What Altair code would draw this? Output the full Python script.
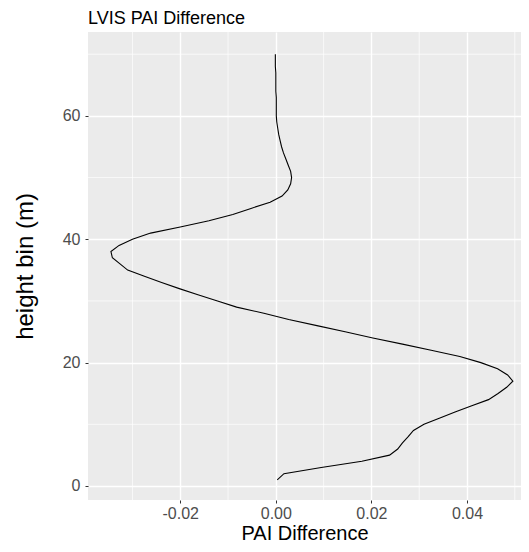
import altair as alt
import pandas as pd

# height bins (m)
heights = [1, 2, 3, 4, 5, 6, 7, 8, 9, 10,
           11, 12, 13, 14, 15, 16, 17, 18, 19, 20,
           21, 22, 23, 24, 25, 26, 27, 28, 29, 30,
           31, 32, 33, 34, 35, 36, 37, 38, 39, 40,
           41, 42, 43, 44, 45, 46, 47, 48, 49, 50,
           51, 52, 53, 54, 55, 56, 57, 58, 59, 60,
           61, 62, 63, 64, 65, 66, 67, 68, 69, 70]

# PAI difference per bin
pai_diff = [0.0003, 0.0017, 0.0095, 0.0180, 0.0238, 0.0255, 0.0265, 0.0277, 0.0288, 0.0310,
            0.0342, 0.0375, 0.0410, 0.0445, 0.0465, 0.0483, 0.0496, 0.0485, 0.0464, 0.0429,
            0.0385, 0.0325, 0.0265, 0.0203, 0.0145, 0.0086, 0.0027, -0.0025, -0.0082, -0.0122,
            -0.0163, -0.0202, -0.0239, -0.0275, -0.0310, -0.0326, -0.0342, -0.0345, -0.0328, -0.0300,
            -0.0262, -0.0200, -0.0140, -0.0090, -0.0052, -0.0012, 0.0013, 0.0025, 0.0031, 0.0033,
            0.0031, 0.0026, 0.0021, 0.0016, 0.0012, 0.0009, 0.0006, 0.0004, 0.0002, 0.0001,
            0.0001, 0.0001, 0.0001, 0.0000, 0.0000, 0.0000, 0.0000, -0.0001, -0.0001, -0.0001]

x_major = [-0.02, 0.00, 0.02, 0.04]
x_minor = [-0.03, -0.01, 0.01, 0.03, 0.05]
y_major = [0, 20, 40, 60]
y_minor = [10, 30, 50, 70]

FONT = "Liberation Sans"

df = pd.DataFrame({"height": heights, "pai": pai_diff})

xscale = alt.Scale(domain=[-0.0393, 0.0513], nice=False, zero=False)
yscale = alt.Scale(domain=[-2.27, 73.6], nice=False, zero=False)

x_axis = alt.Axis(values=x_major, title="PAI Difference",
                  labelExpr="replace(format(datum.value, '.2f'), '\u2212', '-')",
                  labelFontSize=16, labelColor="#4D4D4D", labelFont=FONT,
                  labelPadding=2, tickSize=3, tickColor="#333333", tickWidth=1,
                  domain=False, grid=True, gridColor="white", gridWidth=1.4, gridOpacity=1,
                  titleFontSize=20, titleFontWeight="normal", titleColor="#000000",
                  titleFont=FONT, titleBaseline="alphabetic", titleY=39.5)
y_axis = alt.Axis(values=y_major, title="height bin (m)", format="d",
                  labelFontSize=16, labelColor="#4D4D4D", labelFont=FONT,
                  labelPadding=5, tickSize=3, tickColor="#333333", tickWidth=1,
                  domain=False, grid=True, gridColor="white", gridWidth=1.4, gridOpacity=1,
                  titleFontSize=24, titleFontWeight="normal", titleColor="#000000",
                  titleFont=FONT, titleAngle=270, titleX=-63, titleY=234,
                  titleBaseline="middle", titleAlign="center")

vminor = alt.Chart(pd.DataFrame({"pai": x_minor})).mark_rule(color="white", strokeWidth=0.7).encode(
    x=alt.X("pai:Q", scale=xscale, axis=x_axis))
hminor = alt.Chart(pd.DataFrame({"height": y_minor})).mark_rule(color="white", strokeWidth=0.7).encode(
    y=alt.Y("height:Q", scale=yscale, axis=y_axis))

line = alt.Chart(df).mark_line(color="black", strokeWidth=1.1).encode(
    x=alt.X("pai:Q", scale=xscale, axis=x_axis),
    y=alt.Y("height:Q", scale=yscale, axis=y_axis),
    order=alt.Order("height:Q"),
)

chart = alt.layer(vminor, hminor, line).properties(
    width=433, height=468,
    autosize=alt.AutoSizeParams(type="none"),
    padding={"left": 80, "top": 24, "right": 0, "bottom": 44},
    background="white",
    title=alt.TitleParams("LVIS PAI Difference", anchor="start", frame="group",
                          fontSize=18, fontWeight="normal", color="#000000", font=FONT,
                          offset=4),
).configure_view(fill="#EBEBEB", stroke=None)

chart.save("out.html", embed_options={"renderer": "svg", "actions": False})
